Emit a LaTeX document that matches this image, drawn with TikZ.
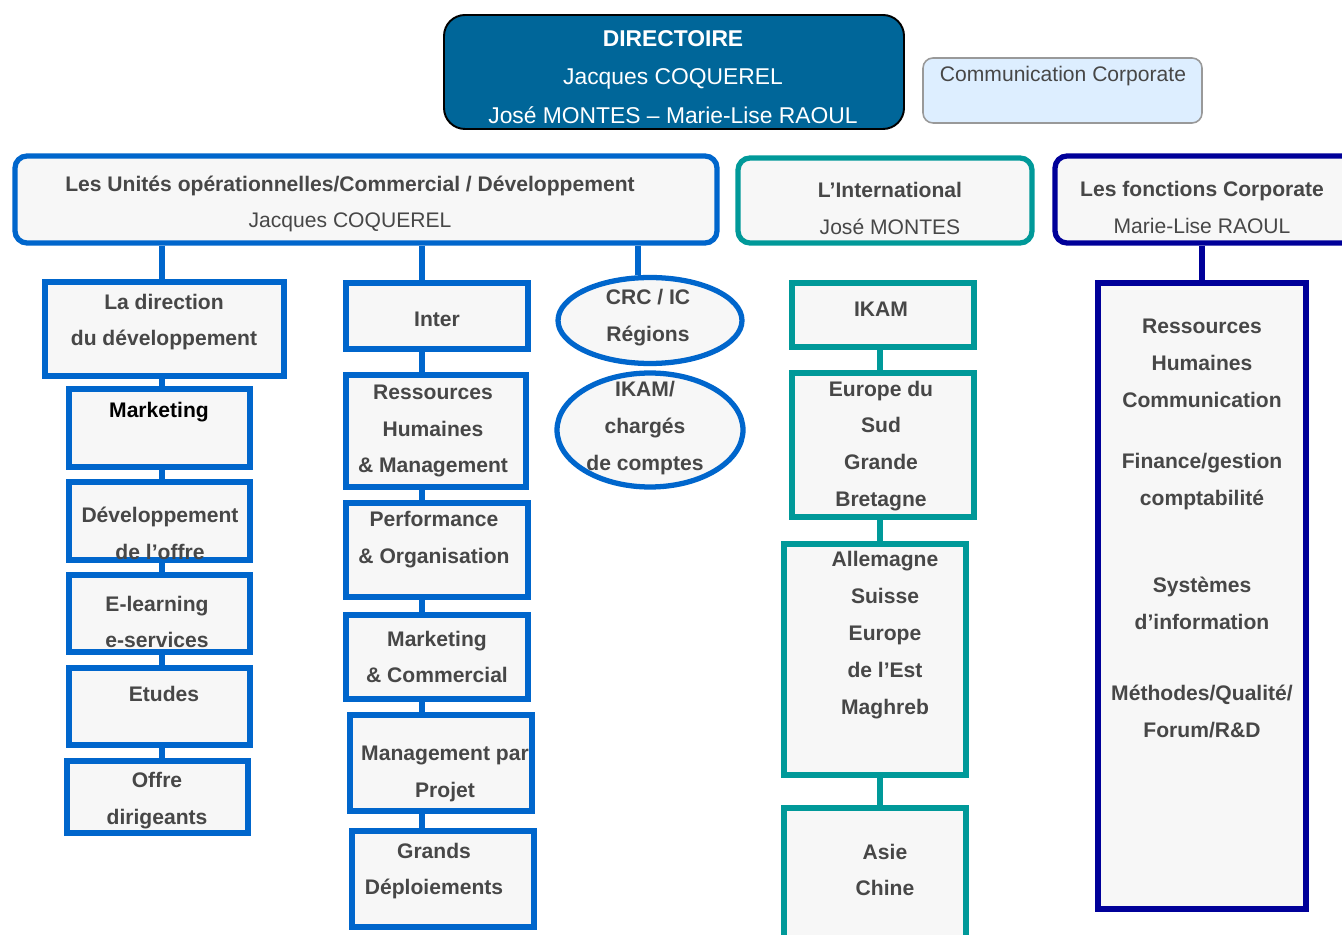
\documentclass[tikz,border=0pt]{standalone}
\usepackage{fontspec}
\setmainfont{Liberation Sans}
\usetikzlibrary{fit,shapes.geometric}
\definecolor{ublue}{HTML}{0066CC}
\definecolor{iteal}{HTML}{009999}
\definecolor{cnavy}{HTML}{000099}
\definecolor{boxgrey}{HTML}{F7F7F7}
\definecolor{txtgrey}{HTML}{474747}
\definecolor{dirfill}{HTML}{006699}
\definecolor{commfill}{HTML}{DDEEFF}
\tikzset{
  ubox/.style={draw=ublue, line width=3pt, fill=boxgrey, inner sep=0pt},
  ibox/.style={draw=iteal, line width=3pt, fill=boxgrey, inner sep=0pt},
  cbox/.style={draw=cnavy, line width=3pt, fill=boxgrey, inner sep=0pt},
  uline/.style={draw=ublue, line width=3pt},
  iline/.style={draw=iteal, line width=3pt},
  cline/.style={draw=cnavy, line width=3pt},
  lbl/.style={text=txtgrey, font=\fontsize{12}{21}\selectfont\bfseries, align=center, inner sep=0pt},
  hdr/.style={text=txtgrey, font=\fontsize{12}{21}\selectfont, align=center, inner sep=0pt},
}
\begin{document}
\begin{tikzpicture}[x=0.02cm, y=-0.02cm]
    \path[use as bounding box] (0,0) rectangle (1342,935);
    \clip (0,0) rectangle (1342,935);

    % Directoire
    \node[draw=black, line width=1.1pt, fill=dirfill, rounded corners=0.42cm, inner sep=0pt, fit={(444,15) (904,129)}] (dirc) {};
    \node[text=white, font=\fontsize{13}{22}\selectfont, align=center, inner sep=0pt] (dirc-t) at (673,77)
        {\textbf{DIRECTOIRE}\\Jacques COQUEREL\\José MONTES – Marie-Lise RAOUL};
    \node[draw=gray!80, line width=0.9pt, fill=commfill, rounded corners=0.2cm, inner sep=0pt, fit={(923,58) (1202,123)}] (comm) {};
    \node[hdr] (comm-t) at (1063,76) {Communication Corporate};

    % Poles
    \node[ubox, rounded corners=0.24cm, fit={(15,156) (717,243)}] (unit) {};
    \node[hdr] (unit-t) at (350,204) {\textbf{Les Unités opérationnelles/Commercial / Développement}\\Jacques COQUEREL};
    \node[ibox, rounded corners=0.24cm, fit={(738,158) (1032,243)}] (intl) {};
    \node[hdr] (intl-t) at (890,208.5) {\textbf{L’International}\\José MONTES};
    \node[cbox, rounded corners=0.24cm, fit={(1055,156) (1360,243)}] (fonc) {};
    \node[hdr] (fonc-t) at (1202,207.5) {\textbf{Les fonctions Corporate}\\Marie-Lise RAOUL};

    % Developpement
    \coordinate (lline) at (162,0);
    \node[ubox, fit={(45,282) (284,376)}] (dir) {};
    \node[ubox, fit={(69,389) (250,467)}] (mkt) {};
    \node[ubox, fit={(69,482) (250,560)}] (dev) {};
    \node[ubox, fit={(69,575) (250,652)}] (elearn) {};
    \node[ubox, fit={(69,668) (250,745)}] (etudes) {};
    \node[ubox, fit={(67,761) (248,833)}] (offre) {};
    \draw[uline] (unit.south -| lline) -- (dir.north -| lline);
    \foreach \a/\b in {dir/mkt, mkt/dev, dev/elearn, elearn/etudes, etudes/offre}
        \draw[uline] (\a.south -| lline) -- (\b.north -| lline);
    \node[lbl] (dir-t) at (164,322) {La direction\\du développement};
    \node[lbl, text=black] (mkt-t) at (159,412.5) {Marketing};
    \node[lbl] (dev-t) at (160,533) {Développement\\de l’offre};
    \node[lbl] (elearn-t) at (157,622) {E-learning\\e-services};
    \node[lbl] (etudes-t) at (164,693.5) {Etudes};
    \node[lbl] (offre-t) at (157,801) {Offre\\dirigeants};

    % Inter
    \coordinate (mline) at (422,0);
    \node[ubox, fit={(346,283) (528,349)}] (inter) {};
    \node[ubox, fit={(346,375) (526,487)}] (rh) {};
    \node[ubox, fit={(346,503) (528,597)}] (perf) {};
    \node[ubox, fit={(346,615) (528,699)}] (mktcom) {};
    \node[ubox, fit={(350,715) (532,811)}] (mgp) {};
    \node[ubox, fit={(352,831) (534,927)}] (grands) {};
    \draw[uline] (unit.south -| mline) -- (inter.north -| mline);
    \foreach \a/\b in {inter/rh, rh/perf, perf/mktcom, mktcom/mgp, mgp/grands}
        \draw[uline] (\a.south -| mline) -- (\b.north -| mline);
    \node[lbl] (inter-t) at (437,319.5) {Inter};
    \node[lbl] (rh-t) at (433,431) {Ressources\\Humaines\\\& Management};
    \node[lbl] (perf-t) at (434,540) {Performance\\\& Organisation};
    \node[lbl] (mktcom-t) at (437,657) {Marketing\\\& Commercial};
    \node[lbl] (mgp-t) at (445,773.5) {Management par\\Projet};
    \node[lbl] (grands-t) at (434,871) {Grands\\Déploiements};

    % Regions
    \coordinate (rline) at (638,0);
    \node[ubox, ellipse, minimum width=3.68cm, minimum height=1.72cm] (crc) at (650,320.5) {};
    \node[ubox, ellipse, minimum width=3.72cm, minimum height=2.28cm] (ikam) at (650,430) {};
    \draw[uline] (unit.south -| rline) -- (crc.north -| rline);
    \node[lbl] (crc-t) at (648,318) {CRC / IC\\Régions};
    \node[lbl] (ikam-t) at (645,428) {IKAM/\\chargés\\de comptes};

    % International
    \coordinate (tline) at (880,0);
    \node[ibox, fit={(792,283) (974,347)}] (ikamx) {};
    \node[ibox, fit={(792,373) (974,517)}] (eur) {};
    \node[ibox, fit={(784,544) (966,775)}] (alle) {};
    \node[ibox, fit={(784,808) (966,960)}] (asie) {};
    \foreach \a/\b in {ikamx/eur, eur/alle, alle/asie}
        \draw[iline] (\a.south -| tline) -- (\b.north -| tline);
    \node[lbl] (ikamx-t) at (881,309.5) {IKAM};
    \node[lbl] (eur-t) at (881,446) {Europe du\\Sud\\Grande\\Bretagne};
    \node[lbl] (alle-t) at (885,635) {Allemagne\\Suisse\\Europe\\de l’Est\\Maghreb};
    \node[lbl] (asie-t) at (885,870) {Asie\\Chine};

    % Corporate
    \node[cbox, fit={(1098,283) (1306,909)}] (fbox) {};
    \draw[cline] (fonc.south -| fbox.north) -- (fbox.north);
    \node[lbl, anchor=north] (fbox-t) at (1202,319)
        {Ressources\\Humaines\\Communication\\[0.48cm]Finance/gestion\\comptabilité\\[1cm]Systèmes\\d’information\\[0.68cm]Méthodes/Qualité/\\Forum/R\&D};
\end{tikzpicture}
\end{document}
